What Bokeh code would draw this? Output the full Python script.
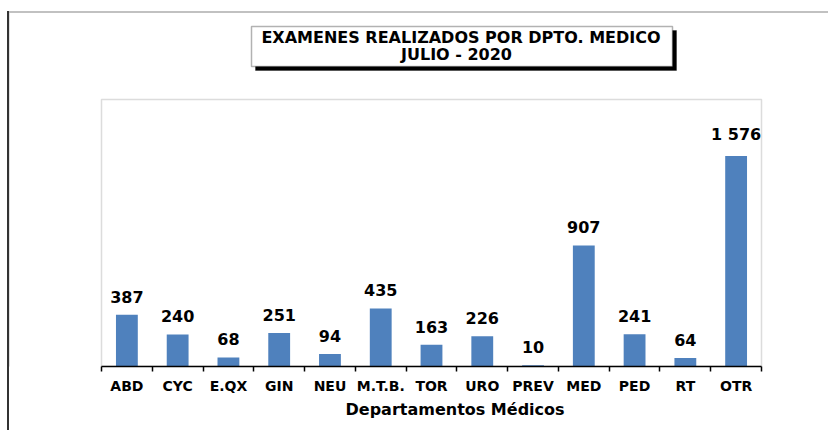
from bokeh.plotting import figure
from bokeh.models import (Range1d, LinearAxis, FixedTicker, CustomJSTickFormatter,
                          ColumnDataSource, Label, BoxAnnotation, Title, InlineStyleSheet)
from bokeh.core.properties import value
from bokeh.embed import file_html
from bokeh.resources import INLINE

# ---- data ----
departments = ["ABD", "CYC", "E.QX", "GIN", "NEU", "M.T.B.", "TOR", "URO",
               "PREV", "MED", "PED", "RT", "OTR"]
exams = [387, 240, 68, 251, 94, 435, 163, 226, 10, 907, 241, 64, 1576]
y_max = 2000
title_line1 = "EXAMENES REALIZADOS POR DPTO. MEDICO"
title_line2 = "JULIO - 2020"
x_title = "Departamentos  Médicos"

# ---- style / geometry (pixels) ----
FONT = "DejaVu Sans"
BAR = "#4F81BD"
W, H = 828, 430
AREA_L, AREA_R, AREA_T, AREA_B = 101, 761, 99, 366   # plot-area box on the canvas
n = len(departments)
px_x = (AREA_R - AREA_L) / n
px_y = (AREA_B - AREA_T) / y_max

positions = [i + 0.5 for i in range(n)]
labels = [f"{v:,}".replace(",", " ") for v in exams]
src = ColumnDataSource(dict(x=positions, y=exams, lab=labels, name=departments))

p = figure(width=W, height=H, output_backend="svg", toolbar_location=None,
           x_range=Range1d(-AREA_L / px_x, n + (W - AREA_R) / px_x),
           y_range=Range1d(0, y_max + AREA_T / px_y),
           x_axis_location=None, y_axis_location=None,
           min_border_left=0, min_border_right=0, min_border_top=0,
           min_border_bottom=H - AREA_B)
p.grid.visible = False
p.outline_line_color = None
p.background_fill_color = "white"
p.border_fill_color = "white"
# left edge of the outer chart border, running the full height of the page
p.stylesheets = [InlineStyleSheet(css=(
    ":host { position: relative; }"
    ":host::after { content: ''; position: absolute; left: 7px; top: 10.5px;"
    " height: 430px; width: 0; border-left: 2px solid #333333; pointer-events: none; }"))]

# plot-area box (gray)
p.add_layout(BoxAnnotation(left=0, right=n, bottom=0, top=y_max, fill_alpha=0,
                           line_color="#8c8c8c", line_width=1.5, level="underlay"))

p.vbar(x="x", top="y", width=0.43, source=src, fill_color=BAR, line_color=None)

p.text(x="x", y="y", text="lab", source=src, text_align="center", text_baseline="bottom",
       y_offset=-12, text_font=value(FONT), text_font_style="bold", text_font_size="16px",
       text_color="black")

xaxis = LinearAxis(
    ticker=FixedTicker(ticks=positions, minor_ticks=list(range(n + 1))),
    formatter=CustomJSTickFormatter(args=dict(names=departments),
                                    code="return names[Math.floor(tick)] || '';"),
    bounds=(0, n),
    axis_line_color="black", axis_line_width=1.5,
    major_tick_in=0, major_tick_out=0,
    minor_tick_in=0, minor_tick_out=5, minor_tick_line_color="black", minor_tick_line_width=1.5,
    major_label_text_font=FONT, major_label_text_font_style="bold",
    major_label_text_font_size="14px", major_label_text_color="black",
    major_label_standoff=6,
)
p.add_layout(xaxis, "below")

# axis title (below the axis)
p.add_layout(Title(text=x_title, align="left", offset=345, standoff=2,
                   text_font=FONT, text_font_style="bold", text_font_size="16px",
                   text_color="black"), "below")

# screen helpers: x from canvas left, y from canvas top
def sb(l, r, t, b, **kw):
    return BoxAnnotation(left=l, right=r, top=AREA_B - t, bottom=AREA_B - b,
                         left_units="screen", right_units="screen",
                         top_units="screen", bottom_units="screen", **kw)

# outer chart border (left and top edges visible)
p.add_layout(sb(8, W + 50, 11.5, H + 50, fill_alpha=0, line_color="#333333", line_width=2))

# title box with drop shadow
p.add_layout(sb(255, 676, 30, 70, fill_color="black", fill_alpha=1,
                line_color="black", line_width=1))
p.add_layout(sb(251, 672, 26, 66, fill_color="white", fill_alpha=1,
                line_color="black", line_width=1.5))

def sl(x, y, text, size):
    return Label(x=x, y=AREA_B - y, x_units="screen", y_units="screen", text=text,
                 text_align="center", text_baseline="middle",
                 text_font=FONT, text_font_style="bold", text_font_size=size,
                 text_color="black")

p.add_layout(sl(460.5, 37, title_line1, "16px"))
p.add_layout(sl(456, 54, title_line2, "16px"))

open("out.html", "w").write(file_html(p, INLINE))
